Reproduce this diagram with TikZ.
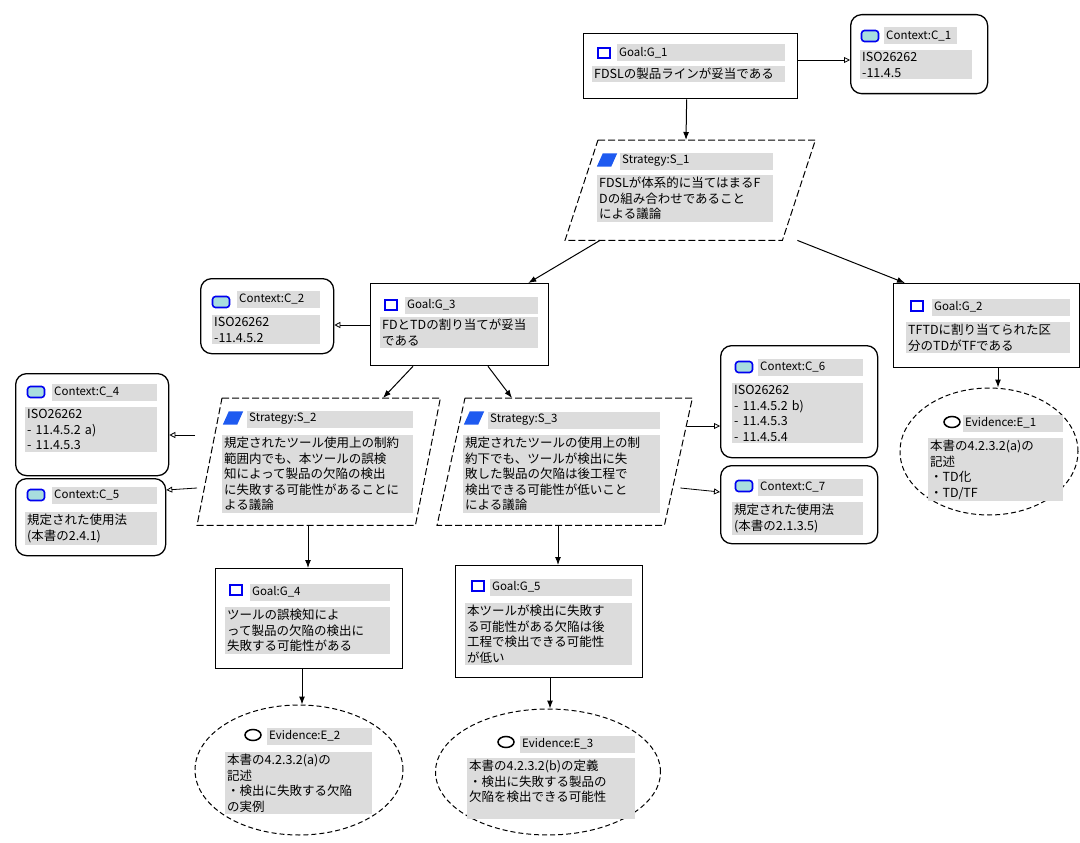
\documentclass[tikz,border=0pt]{standalone}
\usepackage{fontspec}
\newfontfamily\jp{Noto Sans CJK JP}
\usetikzlibrary{shapes.geometric,arrows.meta,calc}
\definecolor{barg}{HTML}{DCDCDC}
\definecolor{ctxfill}{HTML}{A8DEDE}
\definecolor{iconblue}{HTML}{0000F0}
\definecolor{stratblue}{HTML}{1E5AF0}
\tikzset{
 boxline/.style={draw=black, line width=1.3pt},
 goalshape/.style={boxline, fill=white, inner sep=0pt, anchor=north west},
 ctxshape/.style={boxline, rounded corners=11pt, fill=white, inner sep=0pt, anchor=north west},
 evshape/.style={ellipse, draw=black, line width=1pt, dash pattern=on 5pt off 3pt, inner sep=0pt, fill=white},
 stratframe/.style={draw=none, inner sep=0pt, anchor=north west},
 stratline/.style={draw=black, line width=1pt, dash pattern=on 7pt off 3pt},
 hdr/.style={fill=barg, anchor=west, inner sep=2pt, minimum height=17pt, font=\jp\fontsize{11.5}{13}\selectfont, align=left},
 bodyt/.style={fill=barg, anchor=north west, inner sep=2pt, font=\jp\fontsize{12.5}{15.5}\selectfont, align=left},
 goalicon/.style={draw=iconblue, line width=1.9pt, fill=white, minimum width=12pt, minimum height=10pt, inner sep=0pt},
 ctxicon/.style={draw=iconblue, line width=1.6pt, fill=ctxfill, rounded corners=3pt, minimum width=17pt, minimum height=11pt, inner sep=0pt},
 evicon/.style={ellipse, draw=black, line width=1.5pt, minimum width=16pt, minimum height=11pt, inner sep=0pt},
 stricon/.style={draw=none, minimum width=20pt, minimum height=13pt, inner sep=0pt},
 arr/.style={draw=black, line width=1pt, -{Latex[length=8pt,width=6pt]}},
 ctxarr/.style={draw=black, line width=0.8pt, -{Triangle[open,length=6pt,width=6pt]}},
}
\newcommand\mkhdr[5]{\node[hdr, text width=#4] (#1) at (#2,#3) {#5};}
\newcommand\mkbody[5]{\node[bodyt, text width=#4] (#1) at (#2,#3) {#5};}
\newcommand\stricn[3]{\node[stricon] (#1) at (#2,#3) {};
 \fill[stratblue] (#1.south west) -- ($(#1.north west)+(6,0)$) -- (#1.north east) -- ($(#1.south east)+(-6,0)$) -- cycle;}
\newcommand\strat[6]{\node[stratframe, minimum width=#4, minimum height=#5] (#1) at (#2,#3) {};
 \draw[stratline, fill=white] ($(#1.north west)+(#6,0)$) -- (#1.north east) -- ($(#1.south east)+(-#6,0)$) -- (#1.south west) -- cycle;}
\begin{document}
\begin{tikzpicture}[x=1pt,y=-1pt]
\useasboundingbox[fill=white] (0,0) rectangle (1080,843);
% shapes
\node[goalshape, minimum width=214, minimum height=65] (g1) at (583,33) {};
\node[ctxshape, minimum width=137, minimum height=79] (c1) at (850,14) {};
\strat{s1}{565}{140}{250}{100}{33}
\node[ctxshape, minimum width=133, minimum height=75] (c2) at (200,278) {};
\node[goalshape, minimum width=178, minimum height=82] (g3) at (370,283) {};
\node[goalshape, minimum width=186, minimum height=84] (g2) at (893,283) {};
\node[evshape, minimum width=178, minimum height=127] (e1) at (989,451.5) {};
\node[ctxshape, minimum width=153, minimum height=102] (c4) at (15,373) {};
\node[ctxshape, minimum width=150, minimum height=77] (c5) at (15,478) {};
\strat{s2}{197}{398}{243}{127}{25}
\strat{s3}{437}{398}{255}{127}{28}
\node[ctxshape, minimum width=157, minimum height=112] (c6) at (720,345) {};
\node[ctxshape, minimum width=157, minimum height=78] (c7) at (720,465) {};
\node[goalshape, minimum width=187, minimum height=100] (g4) at (215,568) {};
\node[goalshape, minimum width=187, minimum height=112] (g5) at (455,565) {};
\node[evshape, minimum width=208, minimum height=130] (e2) at (299,770) {};
\node[evshape, minimum width=225, minimum height=126] (e3) at (548,772) {};
% icons
\node[goalicon] (g1i) at (604,53) {};
\node[ctxicon] (c1i) at (870,36) {};
\stricn{s1i}{607}{160}
\node[ctxicon] (c2i) at (221,302) {};
\node[goalicon] (g3i) at (391,305) {};
\node[goalicon] (g2i) at (917,306) {};
\node[ctxicon] (c4i) at (36,392) {};
\node[ctxicon] (c5i) at (36,495) {};
\stricn{s2i}{233}{418}
\stricn{s3i}{474}{418}
\node[ctxicon] (c6i) at (744,367) {};
\node[ctxicon] (c7i) at (744,486) {};
\node[evicon] (e1i) at (952,422) {};
\node[goalicon] (g4i) at (236,590) {};
\node[goalicon] (g5i) at (478,586) {};
\node[evicon] (e2i) at (253,735) {};
\node[evicon] (e3i) at (506,742) {};
% headers
\mkhdr{g1h}{617}{53}{164}{Goal:G\_1}
\mkhdr{c1h}{884}{36}{69}{Context:C\_1}
\mkhdr{s1h}{620}{161}{149}{Strategy:S\_1}
\mkhdr{c2h}{237}{299}{79}{Context:C\_2}
\mkhdr{g3h}{405}{305}{129}{Goal:G\_3}
\mkhdr{g2h}{932}{307}{134}{Goal:G\_2}
\mkhdr{c4h}{52}{392}{101}{Context:C\_4}
\mkhdr{c5h}{52}{495}{101}{Context:C\_5}
\mkhdr{s2h}{247}{419}{162}{Strategy:S\_2}
\mkhdr{s3h}{488}{420}{168}{Strategy:S\_3}
\mkhdr{c6h}{758}{367}{101}{Context:C\_6}
\mkhdr{c7h}{758}{487}{101}{Context:C\_7}
\mkhdr{e1h}{963}{423}{96}{Evidence:E\_1}
\mkhdr{g4h}{250}{592}{136}{Goal:G\_4}
\mkhdr{g5h}{490}{587}{138}{Goal:G\_5}
\mkhdr{e2h}{267}{736}{101}{Evidence:E\_2}
\mkhdr{e3h}{520}{744}{111}{Evidence:E\_3}
% bodies
\mkbody{g1b}{592}{66}{189}{FDSLの製品ラインが妥当である}
\mkbody{c1b}{860}{50}{108}{ISO26262\\-11.4.5}
\mkbody{s1b}{597}{175}{172}{FDSLが体系的に当てはまるF\\Dの組み合わせであること\\による議論}
\mkbody{c2b}{212}{315}{104}{ISO26262\\-11.4.5.2}
\mkbody{g3b}{380}{317}{154}{FDとTDの割り当てが妥当\\である}
\mkbody{g2b}{906}{322}{160}{TFTDに割り当てられた区\\分のTDがTFである}
\mkbody{c4b}{25}{407}{128}{ISO26262\\- 11.4.5.2 a)\\- 11.4.5.3}
\mkbody{c5b}{25}{512}{128}{規定された使用法\\(本書の2.4.1)}
\mkbody{s2b}{222}{435}{187}{規定されたツール使用上の制約\\範囲内でも、本ツールの誤検\\知によって製品の欠陥の検出\\に失敗する可能性があることに\\よる議論}
\mkbody{s3b}{463}{435}{193}{規定されたツールの使用上の制\\約下でも、ツールが検出に失\\敗した製品の欠陥は後工程で\\検出できる可能性が低いこと\\による議論}
\mkbody{c6b}{732}{383}{127}{ISO26262\\- 11.4.5.2 b)\\- 11.4.5.3\\- 11.4.5.4}
\mkbody{c7b}{732}{502}{127}{規定された使用法\\(本書の2.1.3.5)}
\mkbody{e1b}{928}{438}{131}{本書の4.2.3.2(a)の\\記述\\・TD化\\・TD/TF}
\mkbody{g4b}{225}{607}{161}{ツールの誤検知によ\\って製品の欠陥の検出に\\失敗する可能性がある}
\mkbody{g5b}{465}{603}{163}{本ツールが検出に失敗す\\る可能性がある欠陥は後\\工程で検出できる可能性\\が低い}
\mkbody{e2b}{225}{752}{143}{本書の4.2.3.2(a)の\\記述\\・検出に失敗する欠陥\\の実例}
\mkbody{e3b}{467}{758}{164}{本書の4.2.3.2(b)の定義\\・検出に失敗する製品の\\欠陥を検出できる可能性\\\rule{0pt}{1pt}}
% connectors
\draw[arr] ($(g1.south)+(-4,0)$) -- ($(s1.north west)+(121,0)$);
\draw[ctxarr] ($(g1.north east)+(0,27)$) -- ($(c1.north west)+(0,46)$);
\draw[arr] ($(s1.south west)+(35,0)$) -- ($(g3.north east)+(-21,0)$);
\draw[arr] ($(s1.south east)+(-18,0)$) -- ($(g2.north west)+(12,0)$);
\draw[ctxarr] ($(g3.north west)+(0,42)$) -- ($(c2.north east)+(0,47)$);
\coordinate (g2bot) at ($(g2.south west)+(105,0)$);
\draw[arr] (g2bot) -- (g2bot |- e1.north);
\draw[arr] ($(g3.south west)+(43,0)$) -- ($(s2.north west)+(186,0)$);
\draw[arr] ($(g3.south west)+(118,0)$) -- ($(s3.north west)+(75,0)$);
\draw[ctxarr] ($(s2.north west)+(-2,37)$) -- ($(c4.north east)+(0,62)$);
\draw[ctxarr] ($(s2.north west)+(0,90)$) -- ($(c5.north east)+(0,12)$);
\draw[ctxarr] ($(s3.north east)+(-5,28)$) -- ($(c6.north west)+(0,81)$);
\draw[ctxarr] ($(s3.north east)+(-12,90)$) -- ($(c7.north west)+(0,27)$);
\draw[arr] ($(s2.south west)+(111,0)$) -- ($(g4.north west)+(93,0)$);
\draw[arr] ($(s3.south west)+(121,0)$) -- ($(g5.north west)+(103,0)$);
\coordinate (g4bot) at ($(g4.south west)+(87,0)$);
\draw[arr] (g4bot) -- (g4bot |- e2.north);
\coordinate (g5bot) at ($(g5.south west)+(95,0)$);
\draw[arr] (g5bot) -- (g5bot |- e3.north);
\end{tikzpicture}
\end{document}
